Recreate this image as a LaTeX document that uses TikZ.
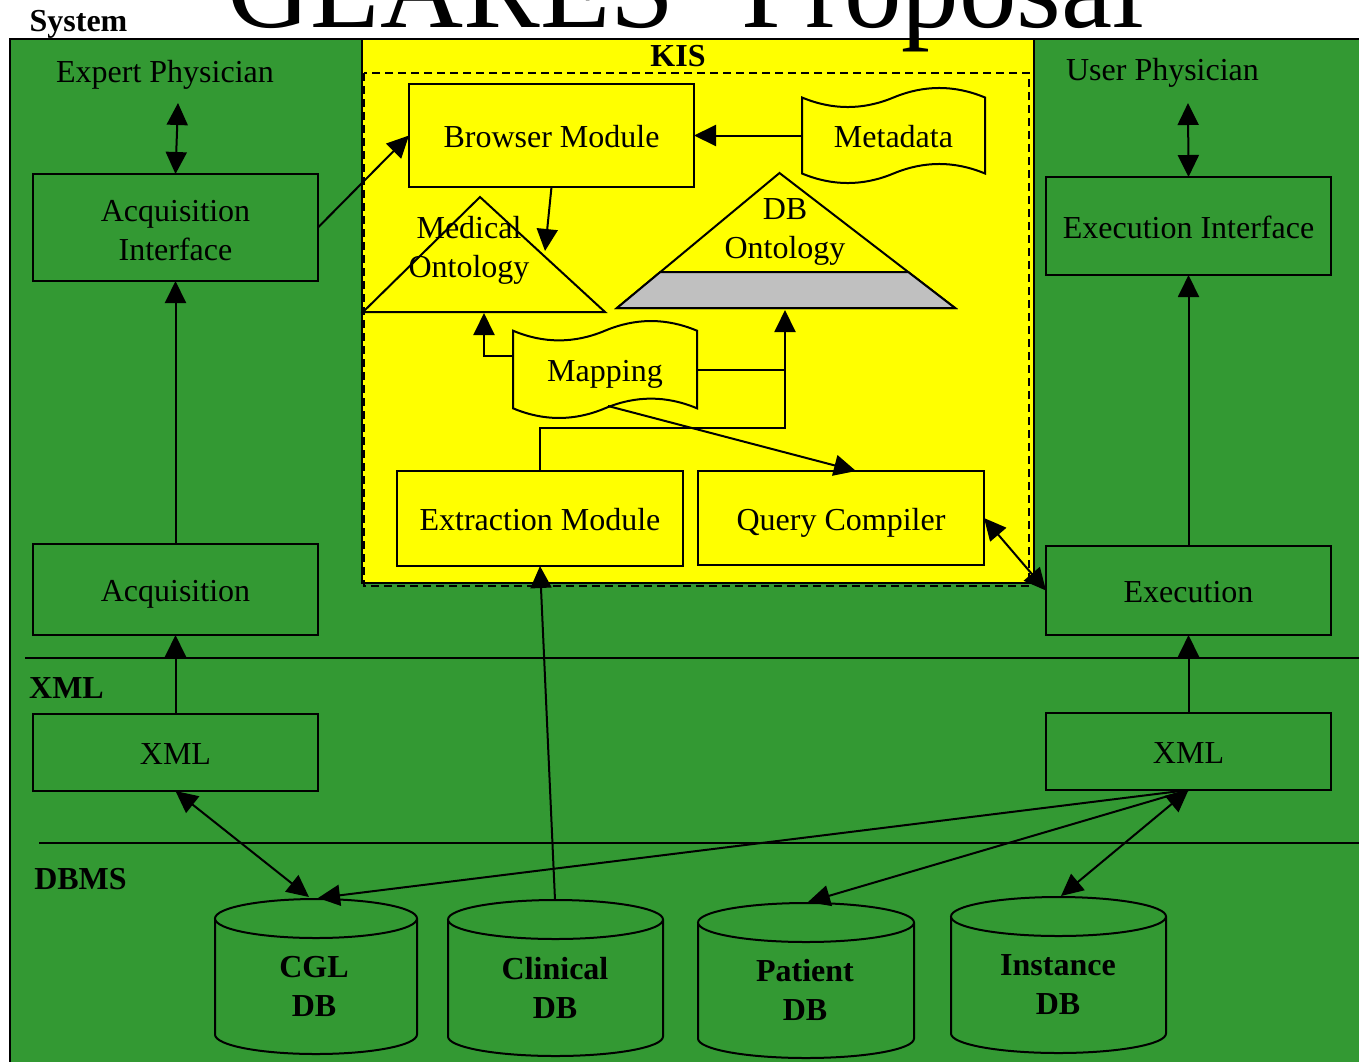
\documentclass[tikz,border=0pt]{standalone}
\usepackage{fontspec}
\setmainfont{Liberation Serif}
\usetikzlibrary{arrows.meta,calc}
\definecolor{panelgreen}{HTML}{339933}
\definecolor{kisyellow}{HTML}{FFFF00}
\definecolor{dbgray}{HTML}{C0C0C0}
\begin{document}
\begin{tikzpicture}[x=0.5pt,y=-0.5pt,
  lbl/.style={font=\fontsize{16}{19.5}\selectfont, inner sep=0pt, outer sep=0pt, align=center},
  boldlbl/.style={font=\fontsize{16}{19.5}\selectfont\bfseries, inner sep=0pt, outer sep=0pt, align=center},
  oneline/.style={text height=12pt, text depth=0pt},
  box/.style={draw, line width=1pt, rectangle, inner sep=0pt, outer sep=0pt,
    font=\fontsize{16}{19}\selectfont, align=center},
  arr/.style={line width=1pt, -{Triangle[length=11pt,width=10.5pt]}},
  dblarr/.style={line width=1pt, {Triangle[length=11pt,width=10.5pt]}-{Triangle[length=11pt,width=10.5pt]}},
  wire/.style={line width=1pt},
  tapeshape/.style={draw, line width=1pt, fill=kisyellow},
  drum/.style={draw, line width=1pt, fill=panelgreen},
]
\useasboundingbox (0,0) rectangle (1359,1061);
\clip (0,0) rectangle (1359,1061);
\fill[white] (0,0) rectangle (1359,1061);

% panels
\draw[fill=panelgreen, line width=1.25pt] (10,39) rectangle (1420,1100);
\draw[fill=kisyellow, line width=1pt] (362,39) rectangle (1034,583);
\draw[line width=1pt, dash pattern=on 4pt off 2.5pt] (364,73) rectangle (1029,586);

% layer separators
\draw[wire] (25,658) -- (1420,658);
\draw[wire] (39,843) -- (1420,843);

% title and layer labels
\node[font=\fontsize{57.5}{60}\selectfont, inner sep=0pt, anchor=base] (title) at (686,27) {GLARES' Proposal};
\node[boldlbl, anchor=base] (systemlbl) at (78.5,31) {System};
\node[boldlbl, anchor=base] (kis) at (678,66) {KIS};
\node[boldlbl, anchor=base] (xmllayer) at (66.5,698) {XML};
\node[boldlbl, anchor=base] (dbmslayer) at (80.5,889) {DBMS};
\node[lbl, anchor=base] (expert) at (165,82) {Expert Physician};
\node[lbl, anchor=base] (user) at (1162.5,80) {User Physician};

% ontologies
\draw[line width=1pt, fill=kisyellow] (363,312) -- (480,197) -- (605,312) -- cycle;
\draw[line width=1pt, fill=kisyellow] (617,308) -- (779.5,173) -- (955,308) -- cycle;
\draw[line width=1pt, fill=dbgray] (617,308) -- (660.3,272) -- (908.2,272) -- (955,308) -- cycle;
\node[lbl] (medont) at (469,250.5) {Medical\\Ontology};
\node[lbl] (dbont) at (785,232) {DB\\Ontology};

% punched-tape documents
\draw[tapeshape] (802,97.5) .. controls (832.5,110.2) and (863,110.2) .. (893.5,97.5)
  .. controls (924,84.8) and (954.5,84.8) .. (985,97.5) -- (985,173.5)
  .. controls (954.5,160.8) and (924,160.8) .. (893.5,173.5)
  .. controls (863,186.2) and (832.5,186.2) .. (802,173.5) -- cycle;
\node[lbl, oneline, minimum width=91.5pt, minimum height=47.5pt] (metadata) at (893.5,135.5) {Metadata};
\draw[tapeshape] (513,330.7) .. controls (543.7,343.6) and (574.3,343.6) .. (605,330.7)
  .. controls (635.7,317.8) and (666.3,317.8) .. (697,330.7) -- (697,408.3)
  .. controls (666.3,395.4) and (635.7,395.4) .. (605,408.3)
  .. controls (574.3,421.2) and (543.7,421.2) .. (513,408.3) -- cycle;
\node[lbl, oneline, minimum width=92pt, minimum height=48.5pt] (mapping) at (605,369.5) {Mapping};

% modules
\node[box, minimum width=142.5pt, minimum height=53.5pt] (acqint) at (175.5,227.5) {};
\node[lbl] (acqinttext) at (175.5,230.5) {Acquisition\\Interface};
\node[box, oneline, minimum width=142.5pt, minimum height=45.5pt] (acq) at (175.5,589.5) {Acquisition};
\node[box, oneline, minimum width=142.5pt, minimum height=38.5pt] (xmll) at (175.5,752.5) {XML};
\node[box, oneline, minimum width=142.5pt, minimum height=49pt] (execint) at (1188.5,226) {Execution Interface};
\node[box, oneline, minimum width=142.5pt, minimum height=44.5pt] (exec) at (1188.5,590.5) {Execution};
\node[box, oneline, minimum width=142.5pt, minimum height=38.5pt] (xmlr) at (1188.5,751.5) {XML};
\node[box, oneline, fill=kisyellow, minimum width=142.5pt, minimum height=51.5pt] (browser) at (551.5,135.5) {Browser Module};
\node[box, oneline, fill=kisyellow, minimum width=143pt, minimum height=47.5pt] (extract) at (540,518.5) {Extraction Module};
\node[box, oneline, fill=kisyellow, minimum width=143pt, minimum height=47pt] (qc) at (841,518) {Query Compiler};

% databases
\draw[drum] (215,918.5) -- (215,1034.5) arc[start angle=180, end angle=0, x radius=101, y radius=19.5] -- (417,918.5);
\draw[drum] (316,918.5) ellipse [x radius=101, y radius=19.5];
\node[boldlbl] (cgl) at (314,986) {CGL\\DB};
\draw[drum] (448,919.5) -- (448,1036.5) arc[start angle=180, end angle=0, x radius=107.5, y radius=19.5] -- (663,919.5);
\draw[drum] (555.5,919.5) ellipse [x radius=107.5, y radius=19.5];
\node[boldlbl] (clinical) at (555,988) {Clinical\\DB};
\draw[drum] (698,922.5) -- (698,1038.5) arc[start angle=180, end angle=0, x radius=108, y radius=19.5] -- (914,922.5);
\draw[drum] (806,922.5) ellipse [x radius=108, y radius=19.5];
\node[boldlbl] (patient) at (805,990) {Patient\\DB};
\draw[drum] (951,916.5) -- (951,1033.5) arc[start angle=180, end angle=0, x radius=107.5, y radius=19.5] -- (1166,916.5);
\draw[drum] (1058.5,916.5) ellipse [x radius=107.5, y radius=19.5];
\node[boldlbl] (instance) at (1058,985) {Instance\\DB};

% connector ports
\coordinate (expertport) at (178,103);
\coordinate (userport) at (1188,103);
\coordinate (medside) at (545,251);
\coordinate (medbase) at (484,313);
\coordinate (dbbase) at (785,310);
\coordinate (cgltopa) at (309,897);
\coordinate (cgltopb) at (318,898);
\coordinate (clintop) at (555,900);
\coordinate (pattop) at (808,902);
\coordinate (insttop) at (1061,896);

% connectors
\draw[dblarr] (expertport) -- (acqint.north);
\draw[dblarr] (userport) -- (execint.north);
\draw[arr] (acq.north) -- (acqint.south);
\draw[arr] (xmll.north) -- (acq.south);
\draw[arr] (exec.north) -- (execint.south);
\draw[arr] (xmlr.north) -- (exec.south);
\draw[arr] (acqint.east) -- (browser.west);
\draw[arr] (metadata.west) -- (browser.east);
\draw[arr] (browser.south) -- (medside);
\draw[arr] ([yshift=6.75pt]mapping.west) -| (medbase);
\draw[wire] (mapping.east) -- (mapping.east -| dbbase);
\draw[arr] (extract.north) -- ++(0,-43) -| (dbbase);
\draw[arr] ([shift={(1.5pt,6pt)}]mapping.south) -- ([xshift=7.5pt]qc.north);
\draw[dblarr] (qc.east) -- (exec.west);
\draw[arr] (clintop) -- (extract.south);
\draw[dblarr] (xmll.south) -- (cgltopa);
\draw[arr] (xmlr.south) -- (cgltopb);
\draw[arr] (xmlr.south) -- (pattop);
\draw[dblarr] (xmlr.south) -- (insttop);
\end{tikzpicture}
\end{document}
